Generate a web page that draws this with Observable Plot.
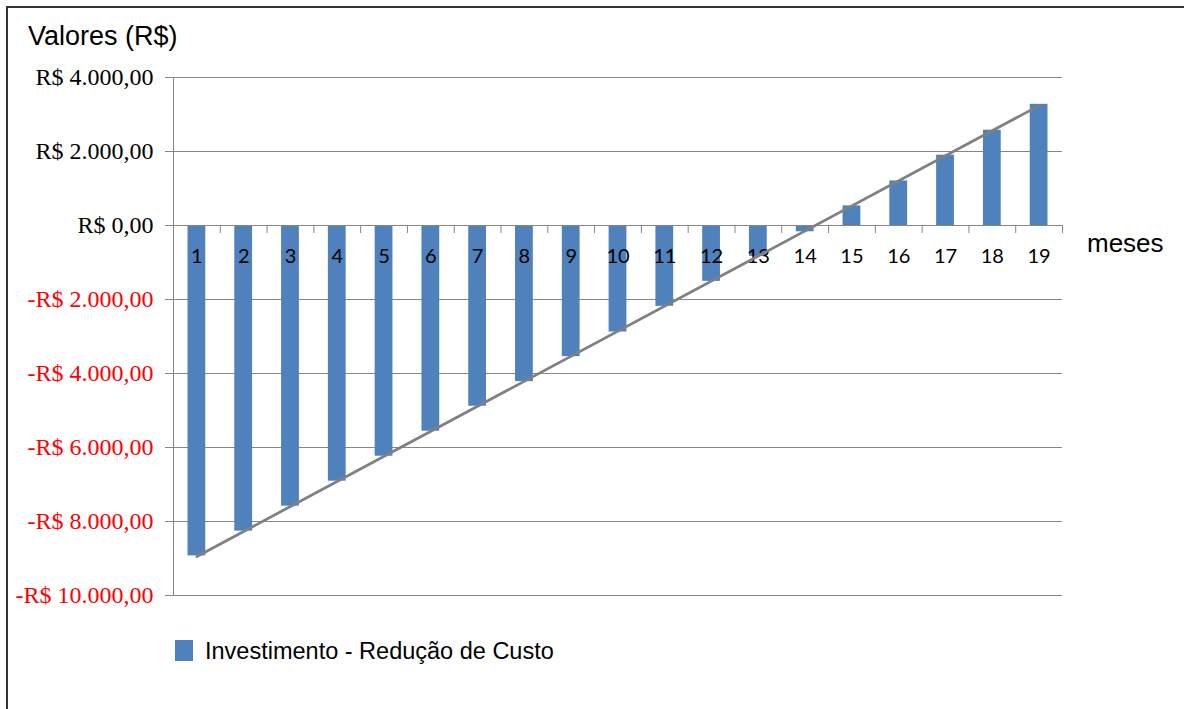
<!DOCTYPE html>
<html lang="pt-BR">
<head>
<meta charset="utf-8">
<script src="https://cdn.jsdelivr.net/npm/d3@7"></script>
<script src="https://cdn.jsdelivr.net/npm/@observablehq/plot@0.6"></script>
<style>
  html, body { margin: 0; padding: 0; background: #fff; }
  #wrap { position: relative; width: 1184px; height: 709px; overflow: hidden; }
  #wrap svg { position: absolute; left: 0; top: 0; }
  .frame { position: absolute; left: 6px; top: 6px; width: 1300px; height: 800px;
           border-top: 2px solid #333; border-left: 2px solid #333; }
  .lbl { position: absolute; font-family: "Liberation Sans", Arial, sans-serif; color: #000; white-space: nowrap; }
  #titulo { left: 28px; top: 23px; font-size: 27px; line-height: 27px; }
  #meses { left: 1087px; top: 230px; font-size: 26px; line-height: 26px; }
  #legenda { left: 175px; top: 640px; font-size: 23.5px; line-height: 23.5px; }
  #legenda .sw { display: inline-block; width: 18px; height: 21px; background: #4F81BD;
                 vertical-align: top; margin-right: 12px; }
</style>
</head>
<body>
<div id="wrap">
  <div class="frame"></div>
  <div id="titulo" class="lbl">Valores (R$)</div>
  <div id="meses" class="lbl">meses</div>
  <div id="legenda" class="lbl"><span class="sw"></span>Investimento - Redução de Custo</div>
</div>
<script>
// Meses do fluxo e saldo acumulado (investimento - redução de custo), em R$
const meses = [1, 2, 3, 4, 5, 6, 7, 8, 9, 10, 11, 12, 13, 14, 15, 16, 17, 18, 19];
const saldo = [-8930, -8260, -7585, -6910, -6235, -5560, -4885, -4220, -3545, -2880,
               -2185, -1510, -835, -170, 530, 1205, 1900, 2575, 3275];

// Marcas do eixo de valores
const yTicks = [4000, 2000, 0, -2000, -4000, -6000, -8000, -10000];
const yDomain = [-10000, 4000];

const dados = meses.map((m, i) => ({mes: m, valor: saldo[i]}));

const xDomain = [meses[0] - 0.5, meses[meses.length - 1] + 0.5];
const divisas = meses.map(m => m + 0.5);       // separadores entre os meses
const meiaLargura = 0.19;                       // metade da largura de cada barra

const fmt = v => (v < 0 ? "-" : "") + "R$ " +
  d3.format(",.2f")(Math.abs(v)).replace(/,/g, "#").replace(/\./g, ",").replace(/#/g, ".");

const cinza = "#868686";
const serifa = "Liberation Serif, Times New Roman, serif";

const chart = Plot.plot({
  width: 1184,
  height: 709,
  marginLeft: 173,
  marginRight: 122,
  marginTop: 77,
  marginBottom: 114,
  x: {domain: xDomain, axis: null},
  y: {domain: yDomain, axis: null},
  marks: [
    Plot.gridY(yTicks, {stroke: cinza, strokeOpacity: 1, strokeWidth: 1}),
    Plot.ruleX([xDomain[0]], {stroke: cinza, strokeWidth: 1}),
    Plot.axisY(yTicks.filter(v => v >= 0), {
      tickSize: 8, tickPadding: 12, stroke: cinza, fill: "#000",
      tickFormat: fmt, fontFamily: serifa, fontSize: 24, label: null
    }),
    Plot.axisY(yTicks.filter(v => v < 0), {
      tickSize: 8, tickPadding: 12, stroke: cinza, fill: "#ff0000",
      tickFormat: fmt, fontFamily: serifa, fontSize: 24, label: null
    }),
    Plot.rectY(dados, {
      x1: d => d.mes - meiaLargura, x2: d => d.mes + meiaLargura,
      y1: 0, y2: "valor", fill: "#4F81BD"
    }),
    Plot.ruleY([0], {stroke: cinza, strokeWidth: 1}),
    Plot.ruleX(divisas, {y1: 0, y2: 0, insetBottom: -8, stroke: cinza, strokeWidth: 1}),
    Plot.text(dados, {
      x: "mes", y: 0, dy: 31, text: d => String(d.mes),
      fontFamily: "Lato, sans-serif", fontSize: 20, fill: "#000"
    }),
    // linha de tendência linear do saldo
    Plot.linearRegressionY(dados, {x: "mes", y: "valor", ci: 0, stroke: "#808080", strokeWidth: 2.8})
  ]
});

document.getElementById("wrap").insertBefore(chart, document.getElementById("wrap").firstChild);
</script>
</body>
</html>
